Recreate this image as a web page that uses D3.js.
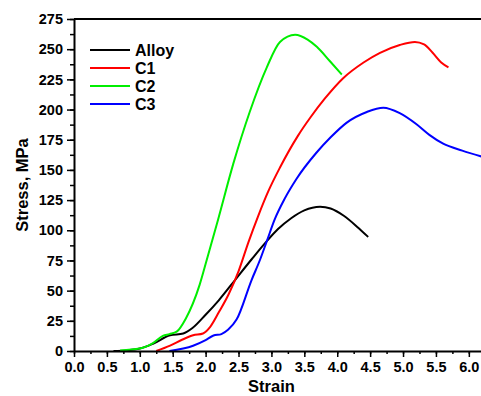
<!DOCTYPE html>
<html>
<head>
<meta charset="utf-8">
<script src="https://cdn.jsdelivr.net/npm/d3@7"></script>
<style>
  body { margin: 0; background: #fff; }
  svg { font-family: "Liberation Sans", Arial, sans-serif; font-weight: bold; }
</style>
</head>
<body>
<div id="chart"></div>
<script>
// series as [strain, stress MPa]
const seriesNames = ['Alloy', 'C1', 'C2', 'C3'];
const seriesColors = ['#000000', '#ff0000', '#00ee00', '#0000ff'];

const alloy = [[0.6, 0], [0.8, 0.5], [1.0, 2], [1.2, 6], [1.46, 13], [1.66, 14.5], [1.8, 19], [2.0, 30], [2.2, 42],
    [2.45, 59], [2.7, 76], [2.93, 91], [3.1, 101], [3.3, 110], [3.5, 116.5], [3.74, 119.5], [3.9, 118], [4.1, 112],
    [4.3, 103], [4.47, 94.5]];
const c1 = [[1.25, 0], [1.46, 4.5], [1.65, 9.5], [1.81, 13], [1.96, 14.5], [2.07, 20], [2.2, 32], [2.35, 47],
    [2.5, 66], [2.65, 90], [2.8, 112], [2.95, 132], [3.13, 152], [3.4, 178], [3.6, 194], [3.81, 209], [4.09, 226],
    [4.4, 239], [4.65, 247], [4.95, 253.5], [5.18, 256], [5.32, 254], [5.45, 247], [5.58, 239], [5.69, 235]];
const c2 = [[0.7, 0.5], [1.0, 2], [1.2, 6.5], [1.35, 12.5], [1.45, 14], [1.56, 16], [1.7, 27], [1.91, 55],
    [2.02, 76], [2.19, 109], [2.42, 155], [2.67, 198], [2.93, 235], [3.13, 256], [3.36, 262], [3.55, 258],
    [3.69, 252], [3.89, 240], [4.07, 229]];
const c3 = [[1.45, 0], [1.81, 4.4], [2.0, 9], [2.12, 12.8], [2.24, 14], [2.34, 17.5], [2.47, 26], [2.7, 59],
    [2.83, 76], [2.93, 91], [3.05, 109], [3.2, 126], [3.38, 142.5], [3.68, 164], [3.9, 177], [4.14, 189],
    [4.45, 198], [4.7, 201.5], [4.95, 197], [5.2, 188], [5.4, 179], [5.61, 171.7], [5.9, 166], [6.2, 161]];
const seriesData = [alloy, c1, c2, c3];

const xTicks = [0, 0.5, 1, 1.5, 2, 2.5, 3, 3.5, 4, 4.5, 5, 5.5, 6];
const yTicks = [0, 25, 50, 75, 100, 125, 150, 175, 200, 225, 250, 275];

const W = 481, H = 396;
const margin = { top: 19, right: -1, bottom: 45, left: 74 };
const width = W - margin.left - margin.right;
const height = H - margin.top - margin.bottom;

const svg = d3.select('#chart').append('svg')
    .attr('width', W)
    .attr('height', H);

const g = svg.append('g').attr('transform', `translate(${margin.left},${margin.top})`);

const x = d3.scaleLinear().domain([0, 6.2]).range([0, width]);
const y = d3.scaleLinear().domain([0, 275]).range([height, 0]);

const line = d3.line()
    .x(d => x(d[0]))
    .y(d => y(d[1]))
    .curve(d3.curveMonotoneX);

seriesData.forEach((data, i) => {
    g.append('path')
        .datum(data)
        .attr('fill', 'none')
        .attr('stroke', seriesColors[i])
        .attr('stroke-width', 2)
        .attr('stroke-linejoin', 'round')
        .attr('d', line);
});

// minor ticks
const xMinor = d3.range(0, 6.2, 0.25);
const yMinor = d3.range(0, 276, 12.5);

g.append('g').attr('transform', `translate(0,${height})`)
    .call(d3.axisBottom(x).tickValues(xTicks).tickFormat(d3.format('.1f')).tickSizeInner(6).tickSizeOuter(0).tickPadding(5));
g.append('g').attr('transform', `translate(0,${height})`)
    .call(d3.axisBottom(x).tickValues(xMinor).tickFormat('').tickSizeInner(3).tickSizeOuter(0))
    .select('.domain').remove();

g.append('g')
    .call(d3.axisLeft(y).tickValues(yTicks).tickSizeInner(7).tickSizeOuter(0).tickPadding(4));
g.append('g')
    .call(d3.axisLeft(y).tickValues(yMinor).tickFormat('').tickSizeInner(4).tickSizeOuter(0))
    .select('.domain').remove();

// top frame line
g.append('line')
    .attr('x1', 0).attr('x2', width)
    .attr('y1', 0).attr('y2', 0)
    .attr('stroke', '#000').attr('stroke-width', 2);

g.selectAll('.domain').attr('stroke-width', 2);
g.selectAll('.tick line').attr('stroke-width', 1.5);
g.selectAll('.tick text').attr('font-size', 14.5).attr('font-family', '"Liberation Sans", Arial, sans-serif').attr('font-weight', 'bold').attr('fill', '#000');

svg.append('text')
    .attr('x', margin.left + x(3.0))
    .attr('y', 392)
    .attr('text-anchor', 'middle')
    .attr('font-size', 16.5)
    .text('Strain');

svg.append('text')
    .attr('transform', `translate(28,${margin.top + y(137.5)}) rotate(-90)`)
    .attr('text-anchor', 'middle')
    .attr('font-size', 16.5)
    .text('Stress, MPa');

// legend
const legend = svg.append('g').attr('transform', 'translate(90,50)');
seriesNames.forEach((name, i) => {
    const row = legend.append('g').attr('transform', `translate(0,${i * 18})`);
    row.append('line')
        .attr('x1', 0).attr('x2', 40)
        .attr('stroke', seriesColors[i]).attr('stroke-width', 2);
    row.append('text')
        .attr('x', 45).attr('y', 6)
        .attr('font-size', 16)
        .text(name);
});
</script>
</body>
</html>
